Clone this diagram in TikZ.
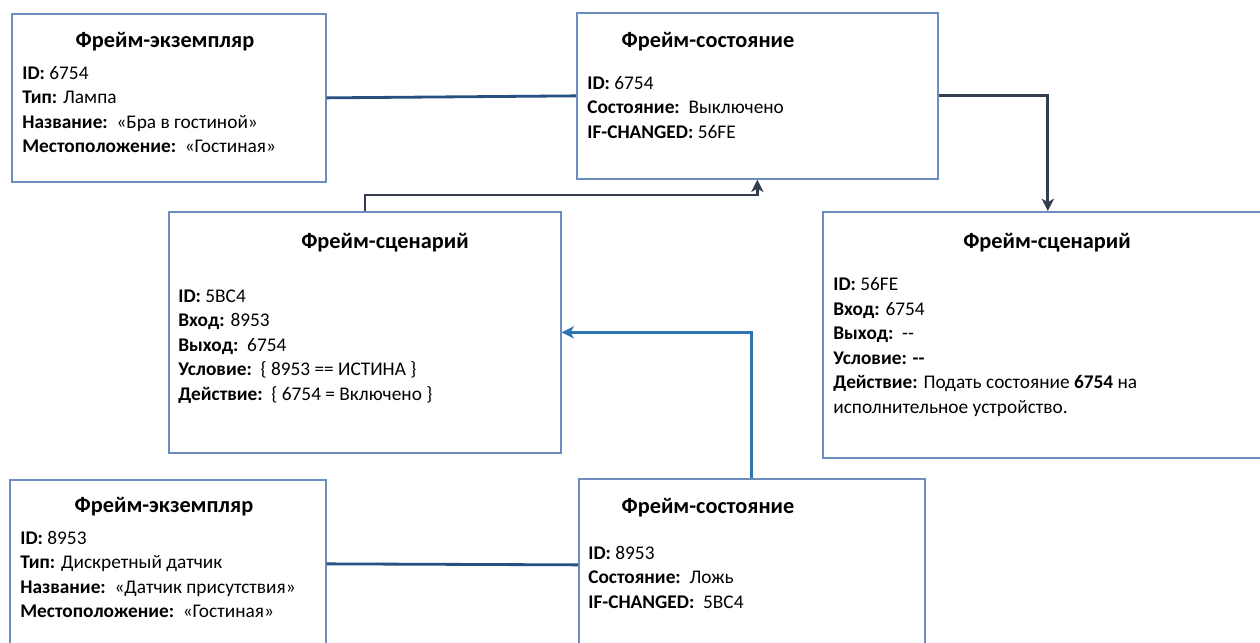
\documentclass[tikz,border=0pt]{standalone}
\usepackage{fontspec}
\setmainfont{Carlito}
\usepackage{tikz}
\usetikzlibrary{arrows.meta, positioning}

\definecolor{framecol}{RGB}{108,142,190}
\definecolor{linkblue}{RGB}{37,80,128}
\definecolor{linkdark}{RGB}{50,62,80}
\definecolor{linklight}{RGB}{46,117,182}

\tikzset{
    frame/.style={draw=framecol, line width=1pt, anchor=north west, inner sep=0pt},
    ftitle/.style={font=\fontsize{12.7}{15}\selectfont\bfseries, anchor=base, inner sep=0pt},
    fbody/.style={font=\fontsize{11}{13.9}\selectfont, anchor=base west, align=left, inner sep=0pt},
    link/.style={line width=1.6pt},
    arr/.style={line width=1.6pt, -{Stealth[length=7pt, width=7pt, inset=2pt]}}
}

\begin{document}
\begin{tikzpicture}[x=0.02cm, y=-0.02cm]
    \useasboundingbox (0,0) rectangle (1260,642);
    \clip (0,0) rectangle (1260,642);

    % frames
    \node[frame, minimum width=6.28cm, minimum height=3.36cm] (inst1) at (11,13) {};
    \node[frame, minimum width=7.22cm, minimum height=3.32cm] (state1) at (576,12) {};
    \node[frame, minimum width=7.84cm, minimum height=4.82cm] (scen1) at (168,211) {};
    \node[frame, minimum width=9.00cm, minimum height=4.92cm] (scen2) at (822,211) {};
    \node[frame, minimum width=6.32cm, minimum height=3.36cm] (inst2) at (9,479) {};
    \node[frame, minimum width=6.92cm, minimum height=3.44cm] (state2) at (578,478) {};

    % texts (body nodes sit on the baseline of their last line)
    \node[ftitle] (inst1t) at (165,48) {Фрейм-экземпляр};
    \node[fbody] (inst1b) at (22,152.6) {\textbf{ID:} 6754\\
        \textbf{Тип:} Лампа\\
        \textbf{Название:}\ \ «Бра в гостиной»\\
        \textbf{Местоположение:}\ \ «Гостиная»};

    \node[ftitle] (state1t) at (708,48) {Фрейм-состояние};
    \node[fbody] (state1b) at (587,138) {\textbf{ID:} 6754\\
        \textbf{Состояние:}\ \ Выключено\\
        \textbf{IF-CHANGED:} 56FE};

    \node[ftitle] (scen1t) at (385,248) {Фрейм-сценарий};
    \node[fbody] (scen1b) at (178,400) {\textbf{ID:} 5BC4\\
        \textbf{Вход:} 8953\\
        \textbf{Выход:}\ \ 6754\\
        \textbf{Условие:}\ \ \{ 8953 == ИСТИНА \}\\
        \textbf{Действие:}\ \ \{ 6754 = Включено \}};

    \node[ftitle] (scen2t) at (1047,248) {Фрейм-сценарий};
    \node[fbody] (scen2b) at (833,413) {\textbf{ID:} 56FE\\
        \textbf{Вход:} 6754\\
        \textbf{Выход:}\ \ -{}-\\
        \textbf{Условие: -{}-}\\
        \textbf{Действие:} Подать состояние \textbf{6754} на\\
        исполнительное устройство.};

    \node[ftitle] (inst2t) at (164,512) {Фрейм-экземпляр};
    \node[fbody] (inst2b) at (20,617.6) {\textbf{ID:} 8953\\
        \textbf{Тип:} Дискретный датчик\\
        \textbf{Название:}\ \ «Датчик присутствия»\\
        \textbf{Местоположение:}\ \ «Гостиная»};

    \node[ftitle] (state2t) at (708,513) {Фрейм-состояние};
    \node[fbody] (state2b) at (588,608) {\textbf{ID:} 8953\\
        \textbf{Состояние:}\ \ Ложь\\
        \textbf{IF-CHANGED:}\ \ 5BC4};

    % connectors
    \draw[link, linkblue] (inst1.east) -- (state1.west);
    \draw[link, linkblue] (inst2.east) -- (state2.west);
    \draw[arr, linkdark] (state1.east) -| (scen2.north);
    \draw[arr, linkdark] ([xshift=3.94cm]scen1.north west) -- ++(0,-16) -| (state1.south);
    \draw[arr, linklight] (state2.north) |- (scen1.east);
\end{tikzpicture}
\end{document}
